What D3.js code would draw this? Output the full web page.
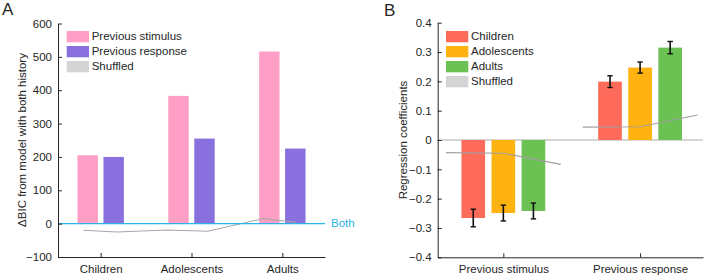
<!DOCTYPE html>
<html>
<head>
    <meta charset="UTF-8" />
    <script src="https://d3js.org/d3.v7.min.js"></script>
    <style>
        body { margin: 0; background: white; }
        svg text { font-family: 'Liberation Sans', Arial, sans-serif; }
        .axis path, .axis line { stroke: #262626; }
        .axis text { fill: #262626; font-size: 11.5px; }
    </style>
</head>
<body>
    <svg id='chart' width='707' height='277'></svg>

    <script>
        // ---- panel A data ----
        const groupsA = ['Children', 'Adolescents', 'Adults'];
        const prevStimulusA = [205, 383, 516];
        const prevResponseA = [200, 255, 225];
        const shuffledAPos = [0.81, 1.18, 1.73, 2.18, 2.79, 3.15];
        const shuffledAVal = [-20, -25, -19, -23, 15, 4];
        const ticksA = [-100, 0, 100, 200, 300, 400, 500, 600];
        const legendA = ['Previous stimulus', 'Previous response', 'Shuffled'];

        // ---- panel B data ----
        const predictorsB = ['Previous stimulus', 'Previous response'];
        const ageGroups = ['Children', 'Adolescents', 'Adults'];
        const coefChildren = [-0.266, 0.199];
        const coefAdolescents = [-0.249, 0.247];
        const coefAdults = [-0.242, 0.315];
        const errChildren = [0.030, 0.020];
        const errAdolescents = [0.027, 0.019];
        const errAdults = [0.027, 0.021];
        const shuffledBOffsets = [-0.42, 0, 0.42];
        const shuffledStimulus = [-0.043, -0.045, -0.083];
        const shuffledResponse = [0.044, 0.045, 0.085];
        const ticksB = [-0.4, -0.3, -0.2, -0.1, 0, 0.1, 0.2, 0.3, 0.4];
        const legendB = ['Children', 'Adolescents', 'Adults', 'Shuffled'];

        const svg = d3.select('svg#chart');

        // ================= Panel A =================
        const xA = d3.scaleLinear().domain([0.53, 3.47]).range([58, 325]);
        const yA = d3.scaleLinear().domain([-100, 600]).range([257, 23.5]);
        const colStim = '#ff9fc6';
        const colResp = '#8870df';
        const barW_A = 0.225;
        const offA = 0.143;

        const gA = svg.append('g');

        // bars
        groupsA.forEach((g, i) => {
            [[prevStimulusA[i], -offA, colStim], [prevResponseA[i], offA, colResp]].forEach(b => {
                gA.append('rect')
                    .attr('x', xA(i + 1 + b[1] - barW_A / 2))
                    .attr('width', xA(i + 1 + barW_A) - xA(i + 1))
                    .attr('y', yA(b[0]))
                    .attr('height', yA(0) - yA(b[0]))
                    .attr('fill', b[2]);
            });
        });

        // shuffled line
        const lineA = d3.line().x(d => xA(d[0])).y(d => yA(d[1]));
        gA.append('path')
            .attr('d', lineA(shuffledAPos.map((p, i) => [p, shuffledAVal[i]])))
            .attr('fill', 'none')
            .attr('stroke', '#a8a8a8')
            .attr('stroke-width', 1.1);

        // "Both" reference line
        gA.append('line')
            .attr('x1', xA(0.53)).attr('x2', xA(3.47))
            .attr('y1', yA(0)).attr('y2', yA(0))
            .attr('stroke', '#2bb5ea')
            .attr('stroke-width', 1.4);
        gA.append('text')
            .attr('x', xA(3.47) + 6).attr('y', yA(0))
            .attr('dominant-baseline', 'middle')
            .attr('fill', '#2bb5ea')
            .style('font-size', '11.5px')
            .text('Both');

        // axes
        gA.append('g').attr('class', 'axis')
            .attr('transform', 'translate(58,0)')
            .call(d3.axisLeft(yA).tickValues(ticksA).tickSizeInner(-4).tickSizeOuter(0).tickPadding(6));
        gA.append('g').attr('class', 'axis')
            .attr('transform', 'translate(0,257)')
            .call(d3.axisBottom(xA).tickValues([1, 2, 3]).tickFormat((d, i) => groupsA[i])
                .tickSizeInner(-4).tickSizeOuter(0).tickPadding(8));

        gA.append('text')
            .attr('transform', 'translate(26,140) rotate(-90)')
            .attr('text-anchor', 'middle')
            .attr('fill', '#262626')
            .style('font-size', '11.5px')
            .text('\u0394BIC from model with both history');

        gA.append('text')
            .attr('x', 2).attr('y', 15)
            .attr('fill', '#262626')
            .style('font-size', '17px')
            .text('A');

        // legend
        const legColA = [colStim, colResp, '#d4d4d4'];
        legendA.forEach((t, i) => {
            gA.append('rect')
                .attr('x', 66.7).attr('y', 31 + i * 15)
                .attr('width', 22.3).attr('height', 11.3)
                .attr('fill', legColA[i]);
            gA.append('text')
                .attr('x', 91.7).attr('y', 36.7 + i * 15)
                .attr('dominant-baseline', 'middle')
                .attr('fill', '#262626')
                .style('font-size', '11.5px')
                .text(t);
        });

        // ================= Panel B =================
        const xB = d3.scaleLinear().domain([0.52, 2.46]).range([437.7, 703]);
        const yB = d3.scaleLinear().domain([-0.4, 0.4]).range([257.3, 22.7]);
        const colsB = ['#ff6b5b', '#ffb310', '#6cc153'];
        const coefs = [coefChildren, coefAdolescents, coefAdults];
        const errs = [errChildren, errAdolescents, errAdults];
        const barW_B = 0.173;
        const offB = 0.22;

        const gB = svg.append('g');

        // zero line
        gB.append('line')
            .attr('x1', xB(0.52)).attr('x2', xB(2.46))
            .attr('y1', yB(0)).attr('y2', yB(0))
            .attr('stroke', '#ababab')
            .attr('stroke-width', 1.1);

        predictorsB.forEach((p, j) => {
            ageGroups.forEach((a, k) => {
                const c = j + 1 + (k - 1) * offB;
                const v = coefs[k][j];
                gB.append('rect')
                    .attr('x', xB(c - barW_B / 2))
                    .attr('width', xB(c + barW_B / 2) - xB(c - barW_B / 2))
                    .attr('y', Math.min(yB(v), yB(0)))
                    .attr('height', Math.abs(yB(v) - yB(0)))
                    .attr('fill', colsB[k]);
            });
        });

        // shuffled lines
        const lineB = d3.line().x(d => xB(d[0])).y(d => yB(d[1]));
        [shuffledStimulus, shuffledResponse].forEach((s, j) => {
            gB.append('path')
                .attr('d', lineB(s.map((v, i) => [j + 1 + shuffledBOffsets[i], v])))
                .attr('fill', 'none')
                .attr('stroke', '#a0a0a0')
                .attr('stroke-width', 1.1);
        });

        // error bars
        predictorsB.forEach((p, j) => {
            ageGroups.forEach((a, k) => {
                const c = j + 1 + (k - 1) * offB;
                const v = coefs[k][j];
                const e = errs[k][j];
                const cx = xB(c);
                gB.append('line')
                    .attr('x1', cx).attr('x2', cx)
                    .attr('y1', yB(v - e)).attr('y2', yB(v + e))
                    .attr('stroke', '#111').attr('stroke-width', 1.6);
                [v - e, v + e].forEach(t => {
                    gB.append('line')
                        .attr('x1', cx - 2.7).attr('x2', cx + 2.7)
                        .attr('y1', yB(t)).attr('y2', yB(t))
                        .attr('stroke', '#111').attr('stroke-width', 1.4);
                });
            });
        });

        gB.append('g').attr('class', 'axis')
            .attr('transform', 'translate(437.7,0)')
            .call(d3.axisLeft(yB).tickValues(ticksB).tickFormat(d => d === 0 ? '0' : d3.format('.1f')(d))
                .tickSizeInner(-4).tickSizeOuter(0).tickPadding(6));
        gB.append('g').attr('class', 'axis')
            .attr('transform', 'translate(0,257.3)')
            .call(d3.axisBottom(xB).tickValues([1, 2]).tickFormat((d, i) => predictorsB[i])
                .tickSizeInner(-4).tickSizeOuter(0).tickPadding(8));

        gB.append('text')
            .attr('transform', 'translate(407,140) rotate(-90)')
            .attr('text-anchor', 'middle')
            .attr('fill', '#262626')
            .style('font-size', '11.5px')
            .text('Regression coefficients');

        gB.append('text')
            .attr('x', 384).attr('y', 15.5)
            .attr('fill', '#262626')
            .style('font-size', '17px')
            .text('B');

        const legColB = colsB.concat(['#d4d4d4']);
        legendB.forEach((t, i) => {
            gB.append('rect')
                .attr('x', 446).attr('y', 31 + i * 15)
                .attr('width', 22.3).attr('height', 11.3)
                .attr('fill', legColB[i]);
            gB.append('text')
                .attr('x', 471).attr('y', 36.7 + i * 15)
                .attr('dominant-baseline', 'middle')
                .attr('fill', '#262626')
                .style('font-size', '11.5px')
                .text(t);
        });
    </script>
</body>
</html>
